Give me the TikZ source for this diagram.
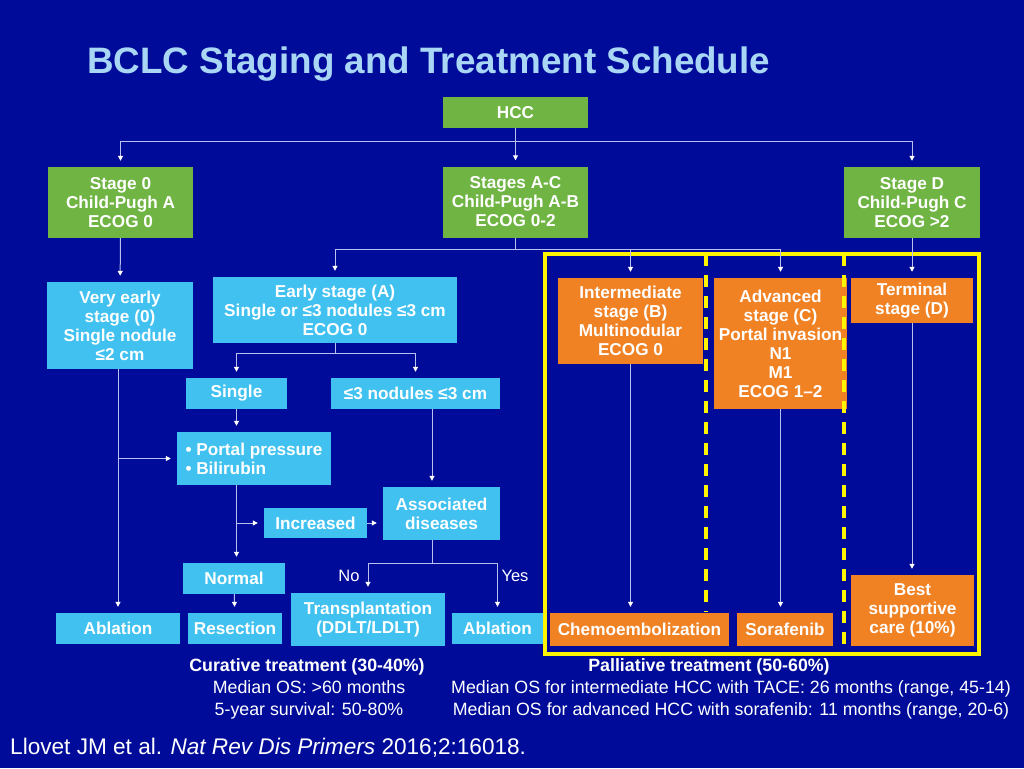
\documentclass[tikz,border=0pt]{standalone}
\usepackage{fontspec}
\setmainfont{Liberation Sans}
\usetikzlibrary{arrows.meta}
\definecolor{slide}{RGB}{0,12,153}
\definecolor{titleblue}{RGB}{170,214,245}
\definecolor{bclcgreen}{RGB}{112,181,68}
\definecolor{bclcblue}{RGB}{64,193,240}
\definecolor{bclcorange}{RGB}{240,130,36}
\definecolor{frameyellow}{RGB}{255,245,0}
\definecolor{linkgray}{RGB}{185,192,235}
\tikzset{>={Triangle[width=5pt,length=5pt,color=white]},
  box/.style={inner sep=0pt,align=center,text=white,
    font=\bfseries\fontsize{17.2}{19}\selectfont},
  greenbox/.style={box,fill=bclcgreen},
  bluebox/.style={box,fill=bclcblue},
  orangebox/.style={box,fill=bclcorange},
  link/.style={draw=linkgray,line width=1pt},
  linkto/.style={link,->,shorten >=6pt},
  note/.style={inner sep=0pt,text=white,align=center,font=\fontsize{17.8}{22}\selectfont}}

\begin{document}
\begin{tikzpicture}[x=1pt,y=-1pt]
    \fill[slide] (0,0) rectangle (1024,768);
    \useasboundingbox (0,0) rectangle (1024,768);
    \node[anchor=west,inner sep=0pt,text=titleblue,font=\bfseries\fontsize{36.8}{40}\selectfont] (title) at (87,64) {BCLC Staging and Treatment Schedule};
    % palliative frame
    \draw[frameyellow,line width=3.5pt] (545,254) rectangle (979,654);
    % staging
    \node[greenbox,minimum width=145pt,minimum height=31pt] (hcc) at (515.5,112.5) {HCC};
    \node[greenbox,minimum width=145pt,minimum height=71pt] (stage0) at (120.5,202.5) {Stage 0\\Child-Pugh A\\ECOG 0};
    \node[greenbox,minimum width=145pt,minimum height=71pt] (stageAC) at (515.5,202) {Stages A-C\\Child-Pugh A-B\\ECOG 0-2};
    \node[greenbox,minimum width=136pt,minimum height=71pt] (stageD) at (912,202.5) {Stage D\\Child-Pugh C\\ECOG >2};
    \node[bluebox,minimum width=146pt,minimum height=87pt] (veryearly) at (120,325.5) {Very early\\stage (0)\\Single nodule\\≤2 cm};
    \node[bluebox,minimum width=244pt,minimum height=66pt] (early) at (335,310) {Early stage (A)\\Single or ≤3 nodules ≤3 cm\\ECOG 0};
    \node[orangebox,minimum width=145pt,minimum height=86pt] (inter) at (630.5,321) {Intermediate\\stage (B)\\Multinodular\\ECOG 0};
    \node[orangebox,minimum width=133pt,minimum height=131pt] (adv) at (780.5,343.5) {Advanced\\stage (C)\\Portal invasion\\N1\\M1\\ECOG 1--2};
    \node[orangebox,minimum width=122pt,minimum height=45pt] (terminal) at (912,300.5) {Terminal\\stage (D)};
    % early stage branches
    \node[bluebox,minimum width=101pt,minimum height=31pt] (single) at (236.5,393.5) {Single};
    \node[bluebox,minimum width=169pt,minimum height=31pt] (nod3) at (415.5,393.5) {≤3 nodules ≤3 cm};
    \node[bluebox,align=left,minimum width=154pt,minimum height=53pt] (portal) at (254,458.5) {• Portal pressure\\• Bilirubin};
    \node[bluebox,minimum width=103pt,minimum height=30pt] (incr) at (315.5,523) {Increased};
    \node[bluebox,minimum width=117pt,minimum height=53pt] (assoc) at (441.5,513.5) {Associated\\diseases};
    \node[bluebox,minimum width=102pt,minimum height=31pt] (normal) at (234,578.5) {Normal};
    \node[note,font=\fontsize{16.5}{19}\selectfont] (no) at (349,576) {No};
    \node[note,font=\fontsize{16.5}{19}\selectfont] (yes) at (515,576) {Yes};
    % treatments
    \node[bluebox,minimum width=124pt,minimum height=31pt] (abl1) at (118,628.5) {Ablation};
    \node[bluebox,minimum width=94pt,minimum height=31pt] (resect) at (235,628.5) {Resection};
    \node[bluebox,minimum width=154pt,minimum height=53pt] (transp) at (368,619.5) {Transplantation\\(DDLT/LDLT)};
    \node[bluebox,minimum width=91pt,minimum height=31pt] (abl2) at (497.5,628.5) {Ablation};
    \node[orangebox,minimum width=179pt,minimum height=33pt] (chemo) at (639.5,629.5) {Chemoembolization};
    \node[orangebox,minimum width=96pt,minimum height=33pt] (sora) at (785,629.5) {Sorafenib};
    \node[orangebox,minimum width=123pt,minimum height=71pt] (bsc) at (912.5,610.5) {Best\\supportive\\care (10\%)};
    \coordinate (xassoc) at (432,0);
    % connectors
    \draw[linkto] (hcc.south) -- ++(0,13) -| (stage0);
    \draw[linkto] (hcc.south) -- ++(0,13) -| (stageD);
    \draw[linkto] (hcc) -- (stageAC);
    \draw[linkto] (stage0) -- (veryearly);
    \draw[linkto] (stageAC.south) -- ++(0,12) -| (early);
    \draw[linkto] (stageAC.south) -- ++(0,12) -| (inter);
    \draw[linkto] (stageAC.south) -- ++(0,12) -| (adv);
    \draw[linkto] (stageD) -- (terminal);
    \draw[linkto] (early.south) -- ++(0,10) -| (single);
    \draw[linkto] (early.south) -- ++(0,10) -| (nod3);
    \draw[linkto] (veryearly.south -| abl1) -- (abl1);
    \draw[linkto] (veryearly.south -| abl1) |- (portal);
    \draw[linkto] (single) -- (single |- portal.north);
    \draw[linkto] (portal.south -| single) -- (single |- normal.north);
    \draw[linkto] (portal.south -| single) |- (incr);
    \draw[linkto] (incr) -- (incr -| assoc.west);
    \draw[linkto] (nod3.south -| xassoc) -- (xassoc |- assoc.north);
    \draw[linkto] (assoc.south -| xassoc) -- ++(0,23) -| (transp);
    \draw[linkto] (assoc.south -| xassoc) -- ++(0,23) -| (abl2);
    \draw[linkto] (normal) -- (resect);
    \draw[linkto] (inter) -- (inter |- chemo.north);
    \draw[linkto] (adv) -- (adv |- sora.north);
    \draw[linkto] (terminal.south) -- (terminal.south |- bsc.north);
    % column dividers
    \draw[frameyellow,line width=3.5pt,dash pattern=on 12pt off 9pt] (706,254) -- (706,612);
    \draw[frameyellow,line width=3.5pt,dash pattern=on 12pt off 9pt] (844,254) -- (844,648);
    % outcomes
    \node[note,font=\bfseries\fontsize{17.8}{22}\selectfont] (curative) at (307,667) {Curative treatment (30-40\%)};
    \node[note] (curos) at (309,700) {Median OS: >60 months\\5-year survival: 50-80\%};
    \node[note,font=\bfseries\fontsize{17.8}{22}\selectfont] (palliative) at (709,667) {Palliative treatment (50-60\%)};
    \node[note] (palos) at (731,700) {Median OS for intermediate HCC with TACE: 26 months (range, 45-14)\\Median OS for advanced HCC with sorafenib: 11 months (range, 20-6)};
    \node[anchor=west,inner sep=0pt,text=white,font=\fontsize{22.6}{26}\selectfont] (cite) at (10,748) {Llovet JM et al. \textit{Nat Rev Dis Primers} 2016;2:16018.};
\end{tikzpicture}
\end{document}
